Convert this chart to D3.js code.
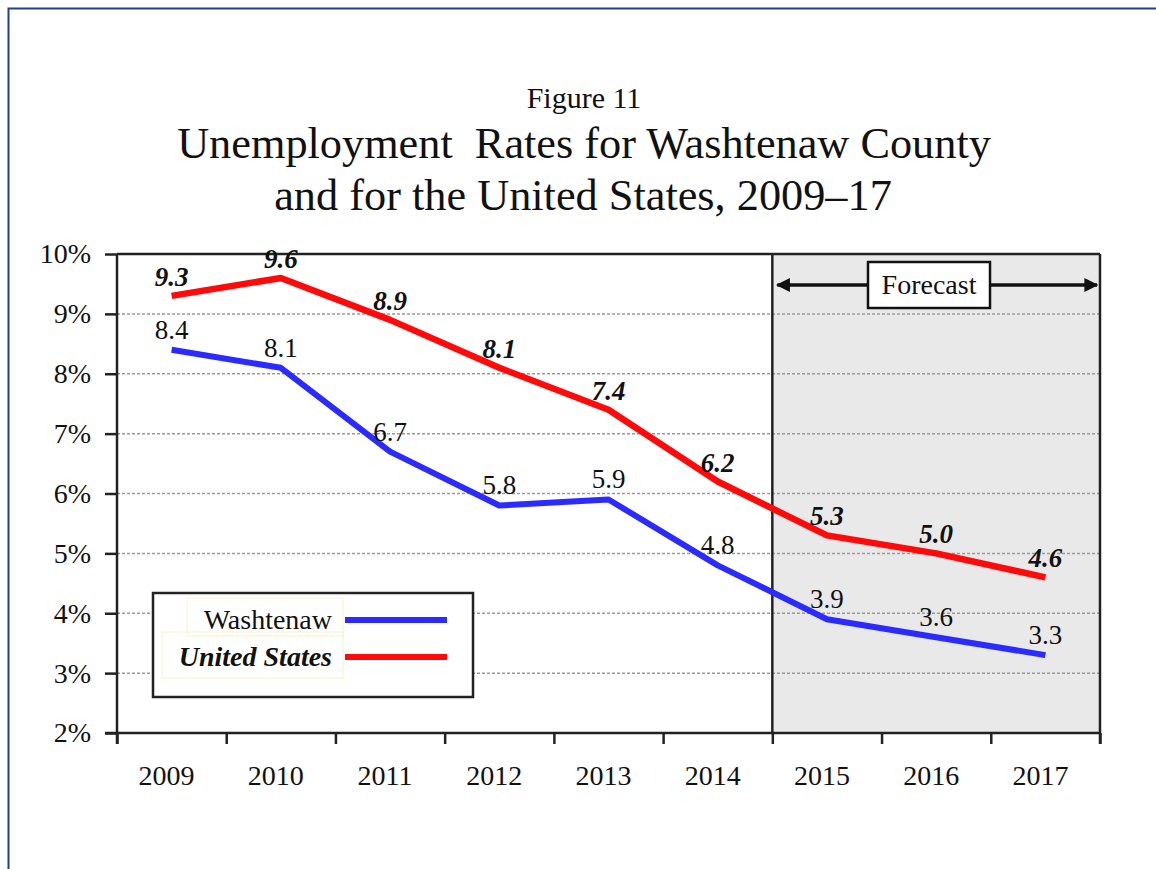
<!DOCTYPE html>
<html>
<head>
<meta charset="utf-8">
<script src="https://cdn.jsdelivr.net/npm/d3@7"></script>
<style>
  html, body { margin: 0; padding: 0; background: #fff; }
  svg { display: block; }
  text { font-family: "Liberation Serif", "Times New Roman", serif; fill: #111; }
</style>
</head>
<body>
<svg id="chart" width="1156" height="869"></svg>
<script>
// Unemployment rates (%), 2009–2017; 2015 onward are forecasts
const years = ["2009", "2010", "2011", "2012", "2013", "2014", "2015", "2016", "2017"];
const washtenaw = [8.4, 8.1, 6.7, 5.8, 5.9, 4.8, 3.9, 3.6, 3.3];
const unitedStates = [9.3, 9.6, 8.9, 8.1, 7.4, 6.2, 5.3, 5.0, 4.6];
const yTicks = [2, 3, 4, 5, 6, 7, 8, 9, 10];
const forecastStart = "2015";
const titleLines = ["Unemployment  Rates for Washtenaw County", "and for the United States, 2009\u201317"];
const figureLabel = "Figure 11";
const seriesNames = ["Washtenaw", "United States"];

const svg = d3.select("#chart");
const W = 1156, H = 869;
const serif = "'Liberation Serif', 'Times New Roman', serif";

// outer page frame (continues past the right and bottom edges)
svg.append("rect")
  .attr("x", 8.5).attr("y", 8.5).attr("width", W + 20).attr("height", H + 20)
  .attr("fill", "#fff").attr("stroke", "#23408c").attr("stroke-width", 2);

const plotLeft = 117, plotRight = 1100, plotTop = 254, plotBottom = 733;

const x = d3.scaleBand().domain(years).range([plotLeft, plotRight]).paddingInner(0).paddingOuter(0);
const xc = d => x(d) + x.bandwidth() / 2;
const y = d3.scaleLinear().domain([2, 10]).range([plotBottom, plotTop]);

// titles
svg.append("text").attr("x", 584).attr("y", 108).attr("text-anchor", "middle")
  .style("font-size", "30px").text(figureLabel);
svg.append("text").attr("x", 584).attr("y", 158).attr("text-anchor", "middle")
  .style("font-size", "44.3px").style("white-space", "pre").text(titleLines[0]);
svg.append("text").attr("x", 583).attr("y", 210).attr("text-anchor", "middle")
  .style("font-size", "44.3px").text(titleLines[1]);

// forecast shading
const fx = x(forecastStart);
svg.append("rect").attr("x", fx).attr("y", plotTop).attr("width", plotRight - fx).attr("height", plotBottom - plotTop)
  .attr("fill", "#e9e9e9");

// horizontal gridlines
svg.append("g").selectAll("line")
  .data(yTicks.filter(t => t > 2 && t < 10))
  .join("line")
  .attr("x1", plotLeft).attr("x2", plotRight)
  .attr("y1", d => y(d)).attr("y2", d => y(d))
  .attr("stroke", "#9a9a9a").attr("stroke-width", 1.5).attr("stroke-dasharray", "3,2");

// y axis
const yAxis = svg.append("g").attr("transform", `translate(${plotLeft},0)`)
  .call(d3.axisLeft(y).tickValues(yTicks).tickSize(12).tickPadding(14).tickFormat(d => d + "%"));
yAxis.select(".domain").remove();
yAxis.selectAll(".tick line").attr("stroke", "#222").attr("stroke-width", 2.5);
yAxis.selectAll(".tick text").style("font-size", "28px").attr("fill", "#111").style("font-family", serif);

// x axis: boundary ticks and year labels
const xb = d3.scaleLinear().domain([0, years.length]).range([plotLeft, plotRight]);
const xTickAxis = svg.append("g").attr("transform", `translate(0,${plotBottom})`)
  .call(d3.axisBottom(xb).ticks(years.length).tickSize(11).tickFormat(""));
xTickAxis.select(".domain").remove();
xTickAxis.selectAll(".tick line").attr("stroke", "#222").attr("stroke-width", 2.5);

const xLabelAxis = svg.append("g").attr("transform", `translate(-5,${plotBottom})`)
  .call(d3.axisBottom(x).tickSize(0).tickPadding(32));
xLabelAxis.select(".domain").remove();
xLabelAxis.selectAll(".tick text").style("font-size", "28px").attr("fill", "#111").style("font-family", serif);

// plot frame
const frame = svg.append("g").attr("stroke", "#222").attr("stroke-width", 2.5).attr("fill", "none");
frame.append("line").attr("x1", plotLeft).attr("x2", plotLeft).attr("y1", plotTop).attr("y2", plotBottom + 11);
frame.append("line").attr("x1", plotLeft - 12).attr("x2", plotRight).attr("y1", plotBottom).attr("y2", plotBottom);
frame.append("line").attr("x1", plotLeft).attr("x2", plotRight).attr("y1", plotTop).attr("y2", plotTop);
frame.append("line").attr("x1", plotRight).attr("x2", plotRight).attr("y1", plotTop).attr("y2", plotBottom + 11);
frame.append("line").attr("x1", fx).attr("x2", fx).attr("y1", plotTop).attr("y2", plotBottom);

// series lines
const line = d3.line().x((d, i) => xc(years[i])).y(d => y(d));
svg.append("path").datum(washtenaw).attr("d", line)
  .attr("fill", "none").attr("stroke", "#2b2bff").attr("stroke-width", 6).attr("stroke-linejoin", "round");
svg.append("path").datum(unitedStates).attr("d", line)
  .attr("fill", "none").attr("stroke", "#ff0a0a").attr("stroke-width", 6.5).attr("stroke-linejoin", "round");

// data labels
svg.append("g").selectAll("text").data(washtenaw).join("text")
  .attr("x", (d, i) => xc(years[i])).attr("y", d => y(d) - 11)
  .attr("text-anchor", "middle").style("font-size", "27px").attr("fill", "#1a1a1a")
  .text(d => d.toFixed(1));
svg.append("g").selectAll("text").data(unitedStates).join("text")
  .attr("x", (d, i) => xc(years[i])).attr("y", d => y(d) - 10)
  .attr("text-anchor", "middle").style("font-size", "27px")
  .style("font-weight", "bold").style("font-style", "italic").attr("fill", "#111")
  .text(d => d.toFixed(1));

// legend
const lg = svg.append("g");
lg.append("rect").attr("x", 153).attr("y", 593).attr("width", 320).attr("height", 104)
  .attr("fill", "#fff").attr("stroke", "#222").attr("stroke-width", 2.5);
lg.append("rect").attr("x", 187).attr("y", 598).attr("width", 156).attr("height", 38)
  .attr("fill", "none").attr("stroke", "#f7f2c8").attr("stroke-width", 1);
lg.append("rect").attr("x", 162).attr("y", 632).attr("width", 181).attr("height", 46)
  .attr("fill", "none").attr("stroke", "#f7f2c8").attr("stroke-width", 1);
const legendColors = ["#2b2bff", "#ff0a0a"];
const legendY = [620, 657];
seriesNames.forEach((name, i) => {
  lg.append("line").attr("x1", 345).attr("x2", 447).attr("y1", legendY[i]).attr("y2", legendY[i])
    .attr("stroke", legendColors[i]).attr("stroke-width", 6);
  const t = lg.append("text").attr("x", 332).attr("y", legendY[i] + 9)
    .attr("text-anchor", "end").style("font-size", "28px").text(name);
  if (i === 1) t.style("font-weight", "bold").style("font-style", "italic");
});

// forecast annotation
const ay = 285;
const defs = svg.append("defs");
defs.append("marker").attr("id", "arrow").attr("viewBox", "0 0 10 10")
  .attr("refX", 9).attr("refY", 5).attr("markerWidth", 4).attr("markerHeight", 4)
  .attr("markerUnits", "strokeWidth").attr("orient", "auto-start-reverse")
  .append("path").attr("d", "M0,0 L10,5 L0,10 Z").attr("fill", "#111");
svg.append("line").attr("x1", fx + 5).attr("x2", plotRight - 3).attr("y1", ay).attr("y2", ay)
  .attr("stroke", "#111").attr("stroke-width", 3.5)
  .attr("marker-start", "url(#arrow)").attr("marker-end", "url(#arrow)");
svg.append("rect").attr("x", 868).attr("y", 262).attr("width", 122).attr("height", 46)
  .attr("fill", "#fff").attr("stroke", "#111").attr("stroke-width", 2.5);
svg.append("text").attr("x", 929).attr("y", 294).attr("text-anchor", "middle")
  .style("font-size", "28px").text("Forecast");
</script>
</body>
</html>
